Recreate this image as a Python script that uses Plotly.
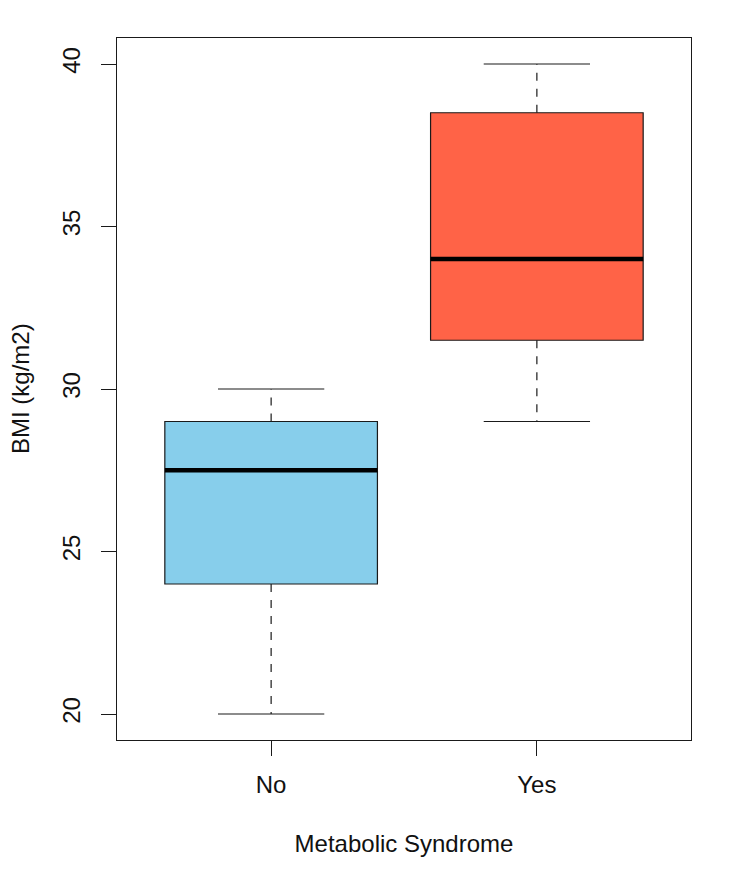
import plotly.graph_objects as go

groups = ["No", "Yes"]
positions = [1, 2]
mins = [20, 29]
q1s = [24, 31.5]
medians = [27.5, 34]
q3s = [29, 38.5]
maxs = [30, 40]
fill_colors = ["#87CEEB", "#FF6347"]
y_ticks = [20, 25, 30, 35, 40]

BOX_W = 0.8
CAP_W = 0.4
LINE = "#1a1a1a"

fig = go.Figure()

for i, g in enumerate(groups):
    x = positions[i]
    # dashed whiskers
    fig.add_trace(go.Scatter(x=[x, x], y=[q3s[i], maxs[i]], mode="lines",
                             line=dict(color=LINE, width=1.2, dash="8px,8px"),
                             showlegend=False, hoverinfo="skip"))
    fig.add_trace(go.Scatter(x=[x, x], y=[q1s[i], mins[i]], mode="lines",
                             line=dict(color=LINE, width=1.2, dash="8px,8px"),
                             showlegend=False, hoverinfo="skip"))
    # caps
    fig.add_trace(go.Scatter(x=[x - CAP_W / 2, x + CAP_W / 2], y=[maxs[i], maxs[i]], mode="lines",
                             line=dict(color=LINE, width=1.2), showlegend=False, hoverinfo="skip"))
    fig.add_trace(go.Scatter(x=[x - CAP_W / 2, x + CAP_W / 2], y=[mins[i], mins[i]], mode="lines",
                             line=dict(color=LINE, width=1.2), showlegend=False, hoverinfo="skip"))
    # box
    fig.add_trace(go.Box(x=[x], q1=[q1s[i]], median=[medians[i]], q3=[q3s[i]],
                         lowerfence=[q1s[i]], upperfence=[q3s[i]],
                         width=BOX_W, whiskerwidth=0,
                         fillcolor=fill_colors[i], line=dict(color=LINE, width=1.2),
                         showlegend=False, name=g))
    # thick median
    fig.add_trace(go.Scatter(x=[x - BOX_W / 2, x + BOX_W / 2], y=[medians[i], medians[i]], mode="lines",
                             line=dict(color="black", width=4.5), showlegend=False, hoverinfo="skip"))

font = "Liberation Sans, Arial, sans-serif"

fig.update_layout(
    width=750, height=886,
    margin=dict(l=117, r=59, t=38, b=146),
    plot_bgcolor="white", paper_bgcolor="white",
    font=dict(family=font, size=24, color="#111"),
    xaxis=dict(range=[0.42, 2.58], tickvals=positions, ticktext=groups,
               showline=True, mirror=True, linecolor=LINE, linewidth=1.2,
               ticks="outside", ticklen=15, tickcolor=LINE, tickwidth=1.2,
               showgrid=False, zeroline=False, ticklabelstandoff=8,
               title=dict(text="Metabolic Syndrome", standoff=38, font=dict(size=24))),
    yaxis=dict(range=[19.2, 40.8], tickvals=y_ticks,
               showline=True, mirror=True, linecolor=LINE, linewidth=1.2,
               ticks="outside", ticklen=15, tickcolor=LINE, tickwidth=1.2,
               showgrid=False, zeroline=False, tickangle=-90, ticklabelstandoff=11),
    annotations=[dict(text="BMI (kg/m2)", textangle=-90, xref="paper", yref="paper",
                      x=0, y=0.5, xshift=-97, showarrow=False,
                      xanchor="center", yanchor="middle", font=dict(size=24))],
)

fig.write_html("out.html")
